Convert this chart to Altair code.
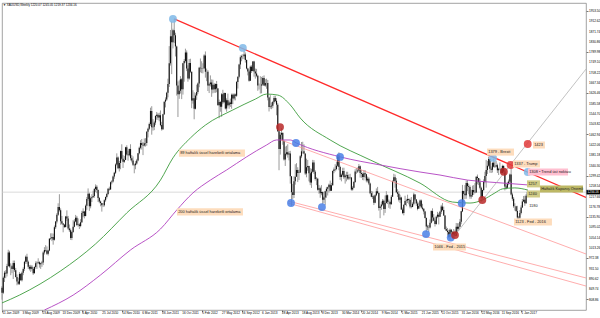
import altair as alt
import pandas as pd

# ---------------- weekly candles (XAUUSD, weeks from 11 Jan 2009) ----------------
first_open = 855

close_2009 = [835,895,915,912,941,995,940,940,930,953, 925,898,880,871,910,885,915,930,958,978,
              958,938,931,938,930,913,937,952,954,956, 948,952,955,995,1005,1003,990,1003,1049,1051,
              1056,1045,1095,1118,1145,1175,1162,1119,1110,1105, 1096]
high_2009 = [862,900,922,925,950,1006,1002,952,946,963, 963,934,908,895,917,913,920,936,962,983,
             990,963,945,946,945,936,940,960,960,972, 960,955,962,1000,1016,1024,1019,1006,1052,1071,
             1071,1070,1102,1120,1151,1190,1226,1170,1140,1112, 1108]
low_2009 = [808,830,878,893,900,938,935,905,913,890, 918,896,865,866,866,883,880,905,922,950,
            950,930,924,918,923,906,912,931,930,950, 935,930,938,945,987,998,985,983,1000,1045,
            1040,1026,1042,1088,1110,1140,1157,1105,1106,1075, 1092]

close_2010 = [1138,1130,1090,1083,1052,1076,1097,1118,1133,1104, 1106,1100,1115,1152,1157,1140,1180,1207,1228,1178,
              1210,1214,1219,1247,1256,1243,1211,1197,1191,1182, 1182,1202,1215,1227,1248,1245,1273,1276,1296,1311,
              1344,1372,1329,1350,1397,1367,1355,1362,1412,1383, 1380,1405]
high_2010 = [1140,1162,1140,1106,1090,1079,1123,1127,1144,1140, 1130,1111,1127,1160,1170,1160,1185,1215,1249,1232,
             1217,1226,1240,1251,1265,1262,1245,1215,1201,1191, 1191,1206,1217,1231,1250,1256,1276,1282,1300,1315,
             1348,1388,1376,1358,1399,1424,1381,1378,1414,1420, 1398,1407]
low_2010 = [1094,1120,1085,1076,1045,1044,1073,1095,1115,1100, 1097,1088,1095,1112,1135,1130,1138,1164,1200,1160,
            1170,1195,1212,1212,1235,1230,1195,1190,1178,1157, 1175,1177,1196,1209,1222,1240,1244,1265,1272,1287,
            1306,1340,1325,1316,1325,1360,1330,1350,1361,1379, 1359,1376]

close_2011 = [1369,1360,1343,1341,1348,1360,1388,1410,1429,1421, 1419,1428,1429,1474,1486,1504,1556,1491,1493,1510,
              1536,1541,1530,1539,1500,1484,1543,1593,1601,1628, 1663,1745,1852,1828,1876,1856,1812,1657,1622,1636,
              1682,1642,1745,1754,1788,1724,1685,1746,1711,1597, 1606,1565]
high_2011 = [1424,1381,1376,1347,1357,1366,1389,1415,1440,1445, 1433,1447,1448,1476,1490,1510,1569,1575,1524,1517,
             1539,1552,1548,1549,1558,1513,1545,1594,1610,1632, 1684,1813,1877,1911,1882,1921,1866,1815,1673,1677,
             1694,1686,1747,1762,1803,1796,1737,1762,1763,1712, 1638,1630]
low_2011 = [1360,1352,1338,1309,1325,1343,1356,1384,1404,1403, 1381,1415,1415,1418,1451,1480,1497,1462,1478,1480,
            1501,1521,1520,1515,1495,1478,1481,1540,1570,1596, 1610,1651,1736,1702,1804,1825,1772,1617,1532,1604,
            1625,1603,1621,1672,1748,1714,1672,1680,1706,1567, 1585,1523]

close_2012 = [1617,1631,1665,1727,1725,1724,1725,1776,1711,1711, 1657,1662,1669,1641,1660,1642,1663,1645,1579,1592,
              1573,1622,1591,1627,1566,1598,1579,1590,1584,1620, 1605,1621,1616,1671,1692,1740,1769,1773,1773,1780,
              1758,1724,1712,1676,1731,1714,1752,1712,1705,1696, 1657,1657,1657]
high_2012 = [1626,1660,1669,1731,1764,1753,1745,1781,1792,1724, 1718,1668,1697,1681,1680,1667,1665,1675,1647,1601,
             1595,1627,1640,1629,1628,1606,1625,1597,1605,1625, 1625,1626,1625,1675,1693,1743,1776,1779,1781,1796,
             1788,1760,1727,1720,1736,1737,1754,1755,1724,1723, 1699,1665,1694]
low_2012 = [1562,1600,1624,1650,1709,1706,1705,1722,1688,1674, 1635,1627,1653,1612,1626,1628,1628,1630,1578,1527,
            1553,1533,1583,1589,1562,1553,1574,1565,1572,1565, 1583,1598,1598,1612,1645,1685,1722,1753,1761,1762,
            1748,1721,1697,1672,1675,1707,1713,1692,1684,1690, 1636,1641,1625]

close_2013 = [1661,1687,1657,1667,1667,1609,1572,1574,1577,1592, 1607,1596,1581,1476,1405,1462,1469,1437,1364,1386,
              1392,1383,1387,1297,1234,1223,1277,1295,1322,1310, 1312,1376,1396,1396,1387,1308,1333,1338,1309,1272,
              1315,1352,1315,1286,1287,1244,1250,1230,1235,1204, 1213,1238]
high_2013 = [1691,1694,1697,1682,1684,1679,1612,1619,1590,1596, 1616,1616,1607,1587,1479,1471,1488,1472,1440,1415,
             1418,1424,1397,1398,1298,1267,1297,1345,1349,1333, 1323,1381,1433,1434,1424,1387,1367,1362,1339,1329,
             1327,1362,1361,1321,1294,1291,1263,1256,1262,1237, 1217,1240]
low_2013 = [1626,1656,1655,1652,1644,1598,1554,1565,1563,1567, 1585,1590,1539,1473,1321,1383,1442,1422,1359,1338,
            1380,1371,1360,1268,1180,1207,1211,1264,1305,1274, 1282,1310,1369,1387,1384,1302,1293,1319,1277,1262,
            1251,1311,1306,1280,1262,1240,1228,1212,1222,1186, 1191,1182]

close_2014 = [1248,1254,1264,1240,1262,1318,1324,1326,1339,1379, 1334,1294,1303,1318,1293,1300,1302,1288,1293,1292,
              1245,1252,1274,1316,1316,1320,1337,1310,1306,1294, 1309,1305,1280,1287,1268,1230,1216,1218,1192,1222,
              1238,1231,1171,1177,1185,1200,1167,1191,1222,1196, 1195,1186]
high_2014 = [1255,1256,1268,1280,1271,1320,1332,1345,1355,1384, 1392,1339,1308,1331,1331,1305,1315,1315,1305,1307,
             1294,1258,1278,1325,1330,1332,1346,1340,1323,1312, 1322,1321,1307,1296,1293,1272,1239,1237,1223,1226,
             1249,1255,1233,1178,1197,1207,1205,1221,1238,1225, 1205,1200]
low_2014 = [1212,1221,1233,1238,1240,1260,1309,1316,1321,1335, 1321,1283,1277,1296,1286,1268,1277,1283,1282,1285,
            1240,1240,1250,1271,1307,1310,1316,1292,1291,1282, 1281,1291,1273,1273,1262,1226,1214,1207,1183,1190,
            1218,1227,1161,1131,1164,1181,1142,1152,1189,1187, 1172,1168]

close_2015 = [1216,1277,1293,1279,1234,1228,1204,1213,1165,1152, 1183,1199,1201,1207,1203,1177,1175,1188,1225,1205,
              1189,1168,1179,1201,1173,1168,1157,1132,1098,1095, 1094,1113,1159,1134,1121,1108,1137,1145,1137,1156,
              1177,1163,1142,1088,1081,1076,1057,1085,1075,1065, 1076,1061]
high_2015 = [1223,1281,1307,1304,1290,1246,1239,1224,1216,1173, 1187,1220,1208,1224,1209,1209,1215,1194,1232,1226,
             1207,1197,1193,1205,1205,1188,1170,1160,1134,1105, 1104,1126,1162,1170,1147,1126,1141,1156,1152,1160,
             1184,1191,1177,1143,1098,1092,1085,1090,1088,1080, 1088,1083]
low_2015 = [1185,1216,1276,1252,1230,1215,1197,1191,1164,1147, 1142,1183,1178,1191,1186,1170,1170,1178,1182,1200,
            1180,1162,1170,1176,1169,1162,1146,1130,1077,1084, 1077,1090,1110,1118,1119,1098,1105,1131,1106,1136,
            1148,1161,1140,1085,1080,1062,1052,1046,1061,1050, 1066,1058]

close_2016 = [1097,1089,1097,1117,1158,1239,1228,1222,1270,1258, 1255,1217,1222,1243,1234,1233,1295,1290,1273,1252,
              1213,1243,1275,1298,1322,1339,1366,1327,1323,1351, 1335,1336,1341,1321,1327,1327,1310,1338,1316,1257,
              1252,1267,1276,1304,1225,1208,1178,1178,1159,1134, 1133,1152]
high_2016 = [1112,1111,1111,1128,1160,1263,1240,1262,1280,1282, 1268,1261,1244,1260,1262,1270,1297,1304,1290,1287,
             1256,1244,1285,1315,1362,1358,1375,1368,1336,1352, 1367,1357,1358,1347,1331,1352,1330,1343,1341,1326,
             1264,1275,1284,1308,1337,1232,1215,1190,1180,1180, 1140,1163]
low_2016 = [1061,1071,1082,1096,1107,1155,1192,1207,1208,1238, 1226,1208,1208,1215,1223,1229,1232,1265,1262,1245,
            1200,1205,1238,1269,1252,1306,1335,1311,1310,1312, 1332,1330,1333,1310,1302,1323,1307,1308,1307,1241,
            1245,1250,1262,1272,1221,1200,1172,1161,1156,1123, 1123,1127]

close_2017 = [1173,1197,1204,1190,1220,1234]
high_2017 = [1182,1207,1219,1220,1226,1245]
low_2017 = [1146,1172,1195,1180,1188,1219]

closes = close_2009 + close_2010 + close_2011 + close_2012 + close_2013 + close_2014 + close_2015 + close_2016 + close_2017
highs = high_2009 + high_2010 + high_2011 + high_2012 + high_2013 + high_2014 + high_2015 + high_2016 + high_2017
lows = low_2009 + low_2010 + low_2011 + low_2012 + low_2013 + low_2014 + low_2015 + low_2016 + low_2017
opens = [first_open] + closes[:-1]
n = min(len(closes), len(highs), len(lows))
candles = pd.DataFrame({"i": list(range(n)), "o": opens[:n], "h": highs[:n], "l": lows[:n], "c": closes[:n]})

# ---------------- moving averages (week index, price) ----------------
ema89_week = [0, 14, 47, 75, 100, 127, 137, 151, 163, 185, 203, 212, 221, 231, 239, 263, 295, 335, 361, 375, 385, 395, 401, 411, 421]
ema89_price = [795, 826, 922, 1029, 1152, 1282, 1370, 1449, 1500, 1560, 1603, 1623, 1619, 1580, 1528, 1441, 1362, 1270, 1195, 1191, 1203, 1231, 1247, 1251, 1243]
ema200_week = [34, 57, 79, 103, 127, 140, 153, 167, 180, 196, 212, 220, 231, 236, 271, 303, 335, 351, 373, 391, 421]
ema200_price = [767, 826, 906, 1005, 1088, 1163, 1231, 1282, 1322, 1374, 1421, 1441, 1441, 1429, 1374, 1342, 1314, 1302, 1282, 1274, 1263]

# ---------------- trend lines (start/end) ----------------
line_name = ["res", "fan", "chanA", "chanB", "chanC"]
line_w0 = [138, 363, 223.6, 229.2, 229.2]
line_p0 = [1921, 1064, 1441, 1199, 1191]
line_w1 = [468, 468, 468, 468, 468]
line_p1 = [1213, 1722, 989, 894, 862]

# ---------------- circles ----------------
circ_week = [137, 193, 393.5, 421.3, 231.6, 256.4, 235.6, 270.9, 339.8, 359.6, 368.4, 222.8, 384.9, 402.2, 363, 421.3, 407.6]
circ_price = [1921, 1806, 1370, 1314, 1191, 1175, 1429, 1374, 1068, 1054, 1190, 1492, 1203, 1315, 1064, 1425, 1342]
circ_kind = ["light", "light", "light", "light", "blue", "blue", "blue", "blue", "blue", "blue", "blue",
             "dark", "dark", "dark", "dark", "red", "red"]

# ---------------- annotations ----------------
ann_text = ["1379 - Brexit", "1337 - Trump", "1423", "1308 • Trend üst noktası", "1257", "1240",
            "Haftalık Kapanış Önemli", "1180", "1123 - Fed - 2016", "1046 - Fed - 2015",
            "89 haftalık üssel hareketli ortalama", "200 haftalık üssel hareketli ortalama"]
ann_w0 = [388.7, 409.5, 425.5, 421.5, 420.7, 420.7, 431.1, 421.5, 410.3, 345.4, 141.8, 140.2]
ann_w1 = [410.3, 431.1, 435.1, 453.6, 431.1, 431.1, 465.6, 431.1, 440.7, 371.8, 194.7, 193.1]
ann_price = [1393, 1346, 1421, 1314, 1267, 1227, 1247, 1179, 1116, 1017, 1389, 1156]
ann_bg = ["peach", "peach", "peach", "pink", "khaki", "khaki", "olive", "none", "peach", "peach", "peach", "peach"]

# ---------------- axes ----------------
x_tick_weeks = [16 * k for k in range(27)]
x_tick_labels = ["11 Jan 2009", "3 May 2009", "23 Aug 2009", "13 Dec 2009", "4 Apr 2010", "25 Jul 2010",
                 "14 Nov 2010", "6 Mar 2011", "26 Jun 2011", "16 Oct 2011", "5 Feb 2012", "27 May 2012",
                 "16 Sep 2012", "6 Jan 2013", "28 Apr 2013", "18 Aug 2013", "8 Dec 2013", "30 Mar 2014",
                 "20 Jul 2014", "9 Nov 2014", "1 Mar 2015", "21 Jun 2015", "11 Oct 2015", "31 Jan 2016",
                 "22 May 2016", "11 Sep 2016", "1 Jan 2017"]
y_ticks = [1953.50, 1912.62, 1871.74, 1830.86, 1789.98, 1749.10, 1708.22, 1667.34, 1626.46, 1585.58,
           1544.70, 1503.82, 1462.94, 1422.06, 1381.18, 1340.30, 1299.42, 1258.54, 1217.66, 1176.78,
           1135.90, 1095.02, 1054.14, 1013.26, 972.38, 931.50, 890.62, 849.74, 808.86]
last_price = 1234.16
header = "▼ XAUUSD,Weekly  1220.07 1245.05 1219.37 1234.16"

FONT = "Liberation Sans"
W, H = 584, 307
xs = alt.Scale(domain=[0, 468], nice=False, zero=False)
ys = alt.Scale(domain=[767, 1984], nice=False, zero=False)

x_axis = alt.Axis(values=x_tick_weeks, labels=False, tickSize=2, tickColor="#777", domain=False,
                  grid=False, title=None)
y_axis = alt.Axis(values=y_ticks, orient="right", labels=False, tickSize=2, tickColor="#777",
                  domain=False, grid=False, title=None)

X = alt.X("i:Q", scale=xs, axis=x_axis)

# price level line
price_df = pd.DataFrame({"p": [last_price]})
price_line = alt.Chart(price_df).mark_rule(color="#c8c8c8", strokeWidth=0.7).encode(
    y=alt.Y("p:Q", scale=ys, axis=y_axis))

wicks = alt.Chart(candles).mark_rule(color="#9a9a9a", strokeWidth=1).encode(
    x=X, y=alt.Y("l:Q", scale=ys, axis=y_axis), y2="h:Q")
bodies = alt.Chart(candles).mark_rule(color="#111111", strokeWidth=1.1).encode(
    x="i:Q", y="o:Q", y2="c:Q")

ema89 = alt.Chart(pd.DataFrame({"i": ema89_week, "p": ema89_price})).mark_line(
    color="#3c9c3c", strokeWidth=0.9, interpolate="monotone", clip=True).encode(x="i:Q", y="p:Q")
ema200 = alt.Chart(pd.DataFrame({"i": ema200_week, "p": ema200_price})).mark_line(
    color="#b040c0", strokeWidth=0.9, interpolate="monotone", clip=True).encode(x="i:Q", y="p:Q")

lines_df = pd.DataFrame({"name": line_name, "w0": line_w0, "p0": line_p0, "w1": line_w1, "p1": line_p1})
res_line = alt.Chart(lines_df[lines_df.name == "res"]).mark_rule(color="#ff2a2a", strokeWidth=1.3, clip=True).encode(
    x="w0:Q", y="p0:Q", x2="w1:Q", y2="p1:Q")
fan_line = alt.Chart(lines_df[lines_df.name == "fan"]).mark_rule(color="#a8a8a8", strokeWidth=0.7, clip=True).encode(
    x="w0:Q", y="p0:Q", x2="w1:Q", y2="p1:Q")
chan_lines = alt.Chart(lines_df[lines_df.name.str.startswith("chan")]).mark_rule(
    color="#ff8a8a", strokeWidth=0.7, clip=True).encode(x="w0:Q", y="p0:Q", x2="w1:Q", y2="p1:Q")

circ_df = pd.DataFrame({"i": circ_week, "p": circ_price, "k": circ_kind})
circles = alt.Chart(circ_df).mark_circle(size=62, opacity=0.85, clip=True).encode(
    x="i:Q", y="p:Q",
    color=alt.Color("k:N", legend=None, scale=alt.Scale(domain=["light", "blue", "dark", "red"],
                                                         range=["#7fb8e8", "#4a80e6", "#b82828", "#e03a3a"])))

ann_df = pd.DataFrame({"t": ann_text, "w0": ann_w0, "w1": ann_w1, "p": ann_price, "bg": ann_bg})
ann_df["top"] = ann_df["p"] + 14
ann_df["bot"] = ann_df["p"] - 14
boxes = alt.Chart(ann_df[ann_df.bg != "none"]).mark_rect().encode(
    x="w0:Q", x2="w1:Q", y="top:Q", y2="bot:Q",
    color=alt.Color("bg:N", legend=None, scale=alt.Scale(domain=["peach", "pink", "khaki", "olive"],
                                                          range=["#fddcbc", "#ffbfd0", "#d0cb86", "#bdb865"])))
texts = alt.Chart(ann_df).mark_text(align="left", baseline="middle", dx=1.2, fontSize=3.9, font=FONT,
                                    color="#222").encode(x="w0:Q", y="p:Q", text="t:N")

# tick labels as text marks (all of them, no overlap culling)
xlab_df = pd.DataFrame({"i": x_tick_weeks, "t": x_tick_labels})
xlabels = alt.Chart(xlab_df).mark_text(align="left", baseline="top", fontSize=3.1, font=FONT, color="#000",
                                       clip=False, dx=0.5).encode(x="i:Q", y=alt.value(H + 2), text="t:N")
ylab_df = pd.DataFrame({"p": y_ticks, "t": [f"{v:.2f}" for v in y_ticks]})
ylabels = alt.Chart(ylab_df).mark_text(align="left", baseline="middle", fontSize=3.1, font=FONT, color="#000",
                                       clip=False).encode(x=alt.value(W + 3), y="p:Q", text="t:N")

# current price box on the right axis
cur_box = alt.Chart(price_df).mark_rect(color="#000000", clip=False).encode(
    x=alt.value(W + 0.5), x2=alt.value(W + 14), y=alt.Y("top:Q"), y2="bot:Q").transform_calculate(
    top="datum.p + 9", bot="datum.p - 9")
cur_txt = alt.Chart(price_df).mark_text(color="#ffffff", align="left", baseline="middle", fontSize=3.1,
                                        font=FONT, clip=False).encode(
    x=alt.value(W + 1.5), y="p:Q", text=alt.Text("p:Q", format=".2f"))

head = alt.Chart(price_df).mark_text(align="left", baseline="middle", fontSize=3, font=FONT, color="#000").encode(
    x=alt.value(1), y=alt.value(2), text=alt.value(header))

chart = alt.layer(
    price_line, wicks, bodies, ema89, ema200, chan_lines, fan_line, res_line,
    circles, boxes, texts, xlabels, ylabels, cur_box, cur_txt, head
).resolve_scale(color="independent").properties(
    width=W, height=H,
    autosize=alt.AutoSizeParams(type="none"),
    padding={"left": 2, "top": 3, "right": 14, "bottom": 8},
    background="#ffffff",
).configure_view(stroke="#8a8a8a", strokeWidth=0.8)

chart.save("out.html", embed_options={"renderer": "svg", "actions": False})
